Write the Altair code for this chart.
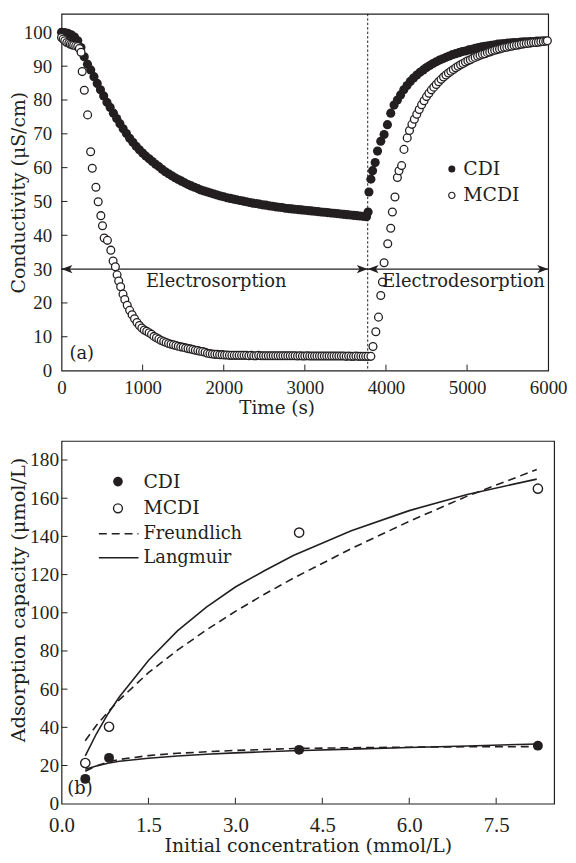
import altair as alt
import pandas as pd

# ---------------- panel (a): conductivity vs time ----------------
cdi_t = (list(range(0, 3761, 40)) + [3780]
         + [3790, 3814, 3835, 3867, 3896, 3936, 3977, 4018, 4059, 4100, 4141]
         + list(range(4180, 5941, 40)))
cdi_v = [
    100.0, 99.9, 99.7, 99.3, 98.6, 97.5, 95.5, 92.8, 90.6, 88.9,
    86.9, 84.9, 83.0, 81.2, 79.3, 77.8, 76.1, 74.5, 73.0, 71.5,
    70.1, 68.7, 67.5, 66.3, 65.3, 64.3, 63.4, 62.6, 61.8, 61.0,
    60.3, 59.5, 58.8, 58.2, 57.6, 57.0, 56.5, 56.0, 55.5, 55.0,
    54.6, 54.2, 53.8, 53.4, 53.1, 52.8, 52.5, 52.2, 51.9, 51.6,
    51.4, 51.1, 50.9, 50.7, 50.5, 50.3, 50.1, 49.9, 49.7, 49.5,
    49.4, 49.2, 49.0, 48.9, 48.7, 48.6, 48.4, 48.3, 48.2, 48.0,
    47.9, 47.8, 47.7, 47.6, 47.5, 47.4, 47.3, 47.2, 47.1, 47.0,
    46.9, 46.8, 46.7, 46.6, 46.5, 46.4, 46.3, 46.2, 46.1, 46.0,
    45.9, 45.8, 45.7, 45.6, 45.5,
    46.9,
    52.8, 56.6, 59.1, 61.5, 64.9, 67.8, 69.8, 72.7, 76.1, 78.5, 80.0,
    81.5, 83.0, 84.3, 85.5, 86.5, 87.4, 88.2, 88.9, 89.6, 90.2,
    90.8, 91.3, 91.8, 92.2, 92.6, 93.0, 93.4, 93.7, 94.0, 94.3,
    94.5, 94.8, 95.0, 95.3, 95.5, 95.7, 95.9, 96.0, 96.2, 96.3,
    96.5, 96.6, 96.7, 96.8, 96.9, 97.0, 97.0, 97.1, 97.2, 97.2,
    97.3, 97.3, 97.4, 97.4, 97.5,
]

mcdi_t = ([0, 20, 40, 65, 90, 110, 130, 150, 175, 200,
           220, 241, 255, 281, 322, 359, 379, 424, 452, 485,
           505, 526, 566, 608, 636, 664, 685, 705, 729, 758]
          + list(range(780, 3781, 30))
          + [3814, 3840, 3875, 3908, 3936, 3957, 3977, 4022, 4059, 4079,
             4111, 4141, 4161, 4193, 4222, 4262]
          + list(range(4290, 5971, 30)) + [5990])
mcdi_v = [
    98.5, 98.0, 97.5, 97.0, 96.8, 96.5, 96.3, 96.2, 96.0, 95.8,
    95.2, 94.1, 88.4, 82.9, 75.6, 64.7, 59.8, 54.2, 49.9, 45.8,
    42.8, 39.2, 38.5, 35.6, 32.4, 30.7, 28.3, 26.5, 24.8, 22.6,
    21.0, 19.3, 17.8, 16.5, 15.3, 14.2, 13.3, 12.6, 12.0, 11.6,
    11.2, 10.7, 10.1, 9.7, 9.3, 8.9, 8.6, 8.3, 8.0, 7.8,
    7.6, 7.4, 7.2, 7.0, 6.9, 6.7, 6.5, 6.4, 6.2, 6.0,
    5.9, 5.7, 5.6, 5.4, 5.1, 5.0, 4.9, 4.8, 4.8, 4.7,
    4.7, 4.6, 4.6, 4.5, 4.5, 4.5, 4.5, 4.5, 4.5, 4.5,
    4.5, 4.4, 4.5, 4.4, 4.4, 4.5, 4.4, 4.4, 4.4, 4.4,
    4.4, 4.4, 4.4, 4.4, 4.4, 4.4, 4.4, 4.4, 4.4, 4.4,
    4.4, 4.3, 4.4, 4.3, 4.3, 4.4, 4.3, 4.3, 4.3, 4.3,
    4.3, 4.3, 4.3, 4.3, 4.3, 4.3, 4.3, 4.3, 4.3, 4.3,
    4.3, 4.2, 4.3, 4.2, 4.2, 4.3, 4.2, 4.2, 4.2, 4.2,
    4.2,
    4.2, 7.1, 11.5, 15.8, 22.2, 26.2, 31.9, 37.5, 42.1, 46.9,
    51.3, 57.1, 59.1, 60.6, 65.4, 68.8,
    71.0, 72.8, 74.3, 75.8, 77.2, 78.6, 79.8, 81.0, 82.0, 83.0,
    83.8, 84.6, 85.4, 86.1, 86.8, 87.4, 88.0, 88.5, 89.0, 89.5,
    90.0, 90.4, 90.8, 91.2, 91.6, 91.9, 92.3, 92.6, 92.9, 93.2,
    93.5, 93.7, 94.0, 94.2, 94.5, 94.7, 94.9, 95.1, 95.3, 95.5,
    95.6, 95.8, 95.9, 96.1, 96.2, 96.3, 96.5, 96.6, 96.7, 96.8,
    96.9, 97.0, 97.0, 97.1, 97.2, 97.3, 97.4,
    97.5,
]

switch_t = [3775]
arrow_y = 30
a_xticks = [0, 1000, 2000, 3000, 4000, 5000, 6000]
a_yticks = [0, 10, 20, 30, 40, 50, 60, 70, 80, 90, 100]
phase_labels = ["Electrosorption", "Electrodesorption"]
phase_x = [1907, 4957]
phase_y = [24.8, 24.8]
a_legend_names = ["CDI", "MCDI"]
a_legend_x = [4812, 4954]
a_legend_y = [59.6, 51.8]

# ---------------- panel (b): isotherms ----------------
conc = [0.41, 0.82, 4.1, 8.22]
cdi_q = [13, 24, 28.2, 30.4]
mcdi_q = [21.3, 40.3, 142, 165]
fit_c = [0.41, 0.6, 0.8, 1.0, 1.5, 2.0, 2.5, 3.0, 3.5, 4.0, 5.0, 6.0, 7.0, 8.2]
mcdi_lang = [25, 36.5, 47, 56, 75, 90.5, 103, 113.5, 122, 130, 143, 153.5, 162, 170]
mcdi_freu = [33, 41, 48, 54.5, 68.6, 80.4, 91.0, 100.7, 109.7, 118.1, 133.6, 147.9, 161.1, 175.0]
cdi_lang = [18, 19.8, 21.2, 22.2, 23.8, 25.0, 25.9, 26.6, 27.2, 27.7, 28.6, 29.4, 30.2, 31.3]
cdi_freu = [17, 19.8, 21.8, 23.2, 25.2, 26.4, 27.2, 27.9, 28.4, 28.9, 29.3, 29.6, 29.8, 29.9]
b_xticks = [0.0, 1.5, 3.0, 4.5, 6.0, 7.5]
b_yticks = [0, 20, 40, 60, 80, 100, 120, 140, 160, 180]
b_legend_names = ["CDI", "MCDI", "Freundlich", "Langmuir"]
b_legend_y = [168.7, 154.7, 141.4, 128.8]
b_legend_mark_x = [0.974, 0.644, 1.328]
b_legend_text_x = 1.413

INK = "#231f20"
SERIF = "DejaVu Serif"
NUMF = "Liberation Serif"
W1, H1 = 491, 360
W2, H2 = 497, 366
TK = 6

PATH_L = "M0,0L2,-0.75L1.5,0L2,0.75Z"
PATH_R = "M0,0L-2,-0.75L-1.5,0L-2,0.75Z"

# ---------- panel (a) ----------
xsa = alt.Scale(domain=[0, 6000], nice=False, zero=False)
ysa = alt.Scale(domain=[0, 105.5], nice=False, zero=False)
axa_x = alt.Axis(values=a_xticks, format="d", title="Time (s)", titleY=43, titleX=217,
                 titleAlign="center", titleBaseline="alphabetic", titleFontSize=18.5,
                 labelFontSize=19, labelPadding=8)
axa_y = alt.Axis(values=a_yticks, format="d", title="Conductivity (μS/cm)",
                 titleX=-33, titleFontSize=19, labelFontSize=19, labelPadding=10)


def XA(f):
    return alt.X(f, type="quantitative", scale=xsa, axis=axa_x)


def YA(f):
    return alt.Y(f, type="quantitative", scale=ysa, axis=axa_y)


df_cdi = pd.DataFrame({"t": cdi_t, "v": cdi_v})
df_mcdi = pd.DataFrame({"t": mcdi_t, "v": mcdi_v})

xt_a = alt.Chart(pd.DataFrame({"t": a_xticks[1:-1]})).mark_rule(color=INK, strokeWidth=1).encode(
    x=XA("t"), y=alt.value(H1), y2=alt.value(H1 - TK))
yt_a = alt.Chart(pd.DataFrame({"v": a_yticks[1:]})).mark_rule(color=INK, strokeWidth=1).encode(
    y=YA("v"), x=alt.value(0), x2=alt.value(TK))
vline = alt.Chart(pd.DataFrame({"t": switch_t})).mark_rule(
    color=INK, strokeWidth=1, strokeDash=[2.5, 2]).encode(
    x=XA("t"), y=alt.value(0), y2=alt.value(H1))
arrow_line = alt.Chart(pd.DataFrame({"t": [a_xticks[0]], "t2": [a_xticks[-1]], "v": [arrow_y]})).mark_rule(
    color=INK, strokeWidth=1.2).encode(x=XA("t"), x2="t2", y=YA("v"))
heads_l = alt.Chart(pd.DataFrame({"t": [a_xticks[0], switch_t[0]], "v": [arrow_y, arrow_y]})).mark_point(
    shape=PATH_L, filled=True, fill=INK, strokeWidth=0, size=121, opacity=1).encode(x=XA("t"), y=YA("v"))
heads_r = alt.Chart(pd.DataFrame({"t": [switch_t[0], a_xticks[-1]], "v": [arrow_y, arrow_y]})).mark_point(
    shape=PATH_R, filled=True, fill=INK, strokeWidth=0, size=121, opacity=1).encode(x=XA("t"), y=YA("v"))
pts_cdi = alt.Chart(df_cdi).mark_circle(color=INK, size=85, opacity=1).encode(x=XA("t"), y=YA("v"))
pts_mcdi = alt.Chart(df_mcdi).mark_point(shape="circle", fill="white", fillOpacity=1, stroke=INK,
                                         strokeWidth=1.3, size=62, opacity=1).encode(x=XA("t"), y=YA("v"))
phase_txt = alt.Chart(pd.DataFrame({"t": phase_x, "v": phase_y, "s": phase_labels})).mark_text(
    font=SERIF, fontSize=18, color=INK, align="center", baseline="alphabetic").encode(
    x=XA("t"), y=YA("v"), text="s:N")
lab_a = alt.Chart(pd.DataFrame({"t": [98], "v": [3.5], "s": ["(a)"]})).mark_text(
    font=SERIF, fontSize=18, color=INK, align="left", baseline="alphabetic").encode(
    x=XA("t"), y=YA("v"), text="s:N")
leg_a_f = alt.Chart(pd.DataFrame({"t": [a_legend_x[0]], "v": [a_legend_y[0]]})).mark_circle(
    color=INK, size=50, opacity=1).encode(x=XA("t"), y=YA("v"))
leg_a_o = alt.Chart(pd.DataFrame({"t": [a_legend_x[0]], "v": [a_legend_y[1]]})).mark_point(
    shape="circle", fill="white", fillOpacity=1, stroke=INK, strokeWidth=1.2, size=40, opacity=1).encode(
    x=XA("t"), y=YA("v"))
leg_a_txt = alt.Chart(pd.DataFrame({"t": [a_legend_x[1]] * 2, "v": a_legend_y, "s": a_legend_names})).mark_text(
    font=SERIF, fontSize=19, color=INK, align="left", baseline="middle").encode(
    x=XA("t"), y=YA("v"), text="s:N")

top = alt.layer(xt_a, yt_a, vline, arrow_line, heads_l, heads_r, pts_cdi, pts_mcdi,
                phase_txt, lab_a, leg_a_f, leg_a_o, leg_a_txt).properties(width=W1, height=H1)

# ---------- panel (b) ----------
xsb = alt.Scale(domain=[0, 8.5], nice=False, zero=False)
ysb = alt.Scale(domain=[0, 190], nice=False, zero=False)
axb_x = alt.Axis(values=b_xticks, format=".1f", title="Initial concentration (mmol/L)", titleY=48,
                 titleBaseline="alphabetic", titleFontSize=19, labelFontSize=21, labelPadding=11)
axb_y = alt.Axis(values=b_yticks, format="d", title="Adsorption capacity (μmol/L)", titleX=-33,
                 titleY=160, titleAlign="center", titleFontSize=19.5, labelFontSize=19.5, labelPadding=3)


def XB(f):
    return alt.X(f, type="quantitative", scale=xsb, axis=axb_x)


def YB(f):
    return alt.Y(f, type="quantitative", scale=ysb, axis=axb_y)


df_fit = pd.DataFrame({"c": fit_c, "ml": mcdi_lang, "mf": mcdi_freu, "cl": cdi_lang, "cf": cdi_freu})
df_pts = pd.DataFrame({"c": conc, "cdi": cdi_q, "mcdi": mcdi_q})

xt_b = alt.Chart(pd.DataFrame({"c": b_xticks[1:]})).mark_rule(color=INK, strokeWidth=1).encode(
    x=XB("c"), y=alt.value(H2), y2=alt.value(H2 - TK))
yt_b = alt.Chart(pd.DataFrame({"q": b_yticks[1:]})).mark_rule(color=INK, strokeWidth=1).encode(
    y=YB("q"), x=alt.value(0), x2=alt.value(TK))


def fit_line(col, dashed):
    kw = dict(color=INK, strokeWidth=1.6)
    if dashed:
        kw["strokeDash"] = [8, 5]
    return alt.Chart(df_fit).mark_line(**kw).encode(x=XB("c"), y=YB(col))


lines_b = [fit_line("mf", True), fit_line("ml", False), fit_line("cf", True), fit_line("cl", False)]
pts_b_cdi = alt.Chart(df_pts).mark_circle(color=INK, size=100, opacity=1).encode(x=XB("c"), y=YB("cdi"))
pts_b_mcdi = alt.Chart(df_pts).mark_point(shape="circle", fill="white", fillOpacity=1, stroke=INK,
                                          strokeWidth=1.4, size=88, opacity=1).encode(x=XB("c"), y=YB("mcdi"))
lab_b = alt.Chart(pd.DataFrame({"c": [0.1], "q": [5.2], "s": ["(b)"]})).mark_text(
    font=SERIF, fontSize=18, color=INK, align="left", baseline="alphabetic").encode(
    x=XB("c"), y=YB("q"), text="s:N")
leg_b_f = alt.Chart(pd.DataFrame({"c": [b_legend_mark_x[0]], "q": [b_legend_y[0]]})).mark_circle(
    color=INK, size=95, opacity=1).encode(x=XB("c"), y=YB("q"))
leg_b_o = alt.Chart(pd.DataFrame({"c": [b_legend_mark_x[0]], "q": [b_legend_y[1]]})).mark_point(
    shape="circle", fill="white", fillOpacity=1, stroke=INK, strokeWidth=1.4, size=80, opacity=1).encode(
    x=XB("c"), y=YB("q"))
leg_b_dash = alt.Chart(pd.DataFrame({"c": [b_legend_mark_x[1]], "c2": [b_legend_mark_x[2]],
                                     "q": [b_legend_y[2]]})).mark_rule(
    color=INK, strokeWidth=1.6, strokeDash=[8, 5]).encode(x=XB("c"), x2="c2", y=YB("q"))
leg_b_solid = alt.Chart(pd.DataFrame({"c": [b_legend_mark_x[1]], "c2": [b_legend_mark_x[2]],
                                      "q": [b_legend_y[3]]})).mark_rule(
    color=INK, strokeWidth=1.6).encode(x=XB("c"), x2="c2", y=YB("q"))
leg_b_txt1 = alt.Chart(pd.DataFrame({"c": [b_legend_text_x] * 2, "q": b_legend_y[:2],
                                     "s": b_legend_names[:2]})).mark_text(
    font=SERIF, fontSize=19, color=INK, align="left", baseline="middle").encode(
    x=XB("c"), y=YB("q"), text="s:N")
leg_b_txt2 = alt.Chart(pd.DataFrame({"c": [b_legend_text_x] * 2, "q": b_legend_y[2:],
                                     "s": b_legend_names[2:]})).mark_text(
    font=SERIF, fontSize=18, color=INK, align="left", baseline="middle").encode(
    x=XB("c"), y=YB("q"), text="s:N")

bottom = alt.layer(xt_b, yt_b, *lines_b, pts_b_cdi, pts_b_mcdi, lab_b, leg_b_f, leg_b_o,
                   leg_b_dash, leg_b_solid, leg_b_txt1, leg_b_txt2).properties(width=W2, height=H2)

chart = alt.vconcat(top, bottom, spacing=22).properties(
    padding={"left": 0, "top": 0, "right": 0, "bottom": 0},
    background="white",
).configure_view(stroke=INK, strokeWidth=1.2).configure_axis(
    ticks=False, domain=False, grid=False, labelFlush=False,
    labelFont=NUMF, labelColor=INK,
    titleFont=SERIF, titleFontWeight="normal", titleColor=INK,
).configure_concat(spacing=22)

chart.save("out.html", embed_options={"renderer": "svg", "actions": False})
